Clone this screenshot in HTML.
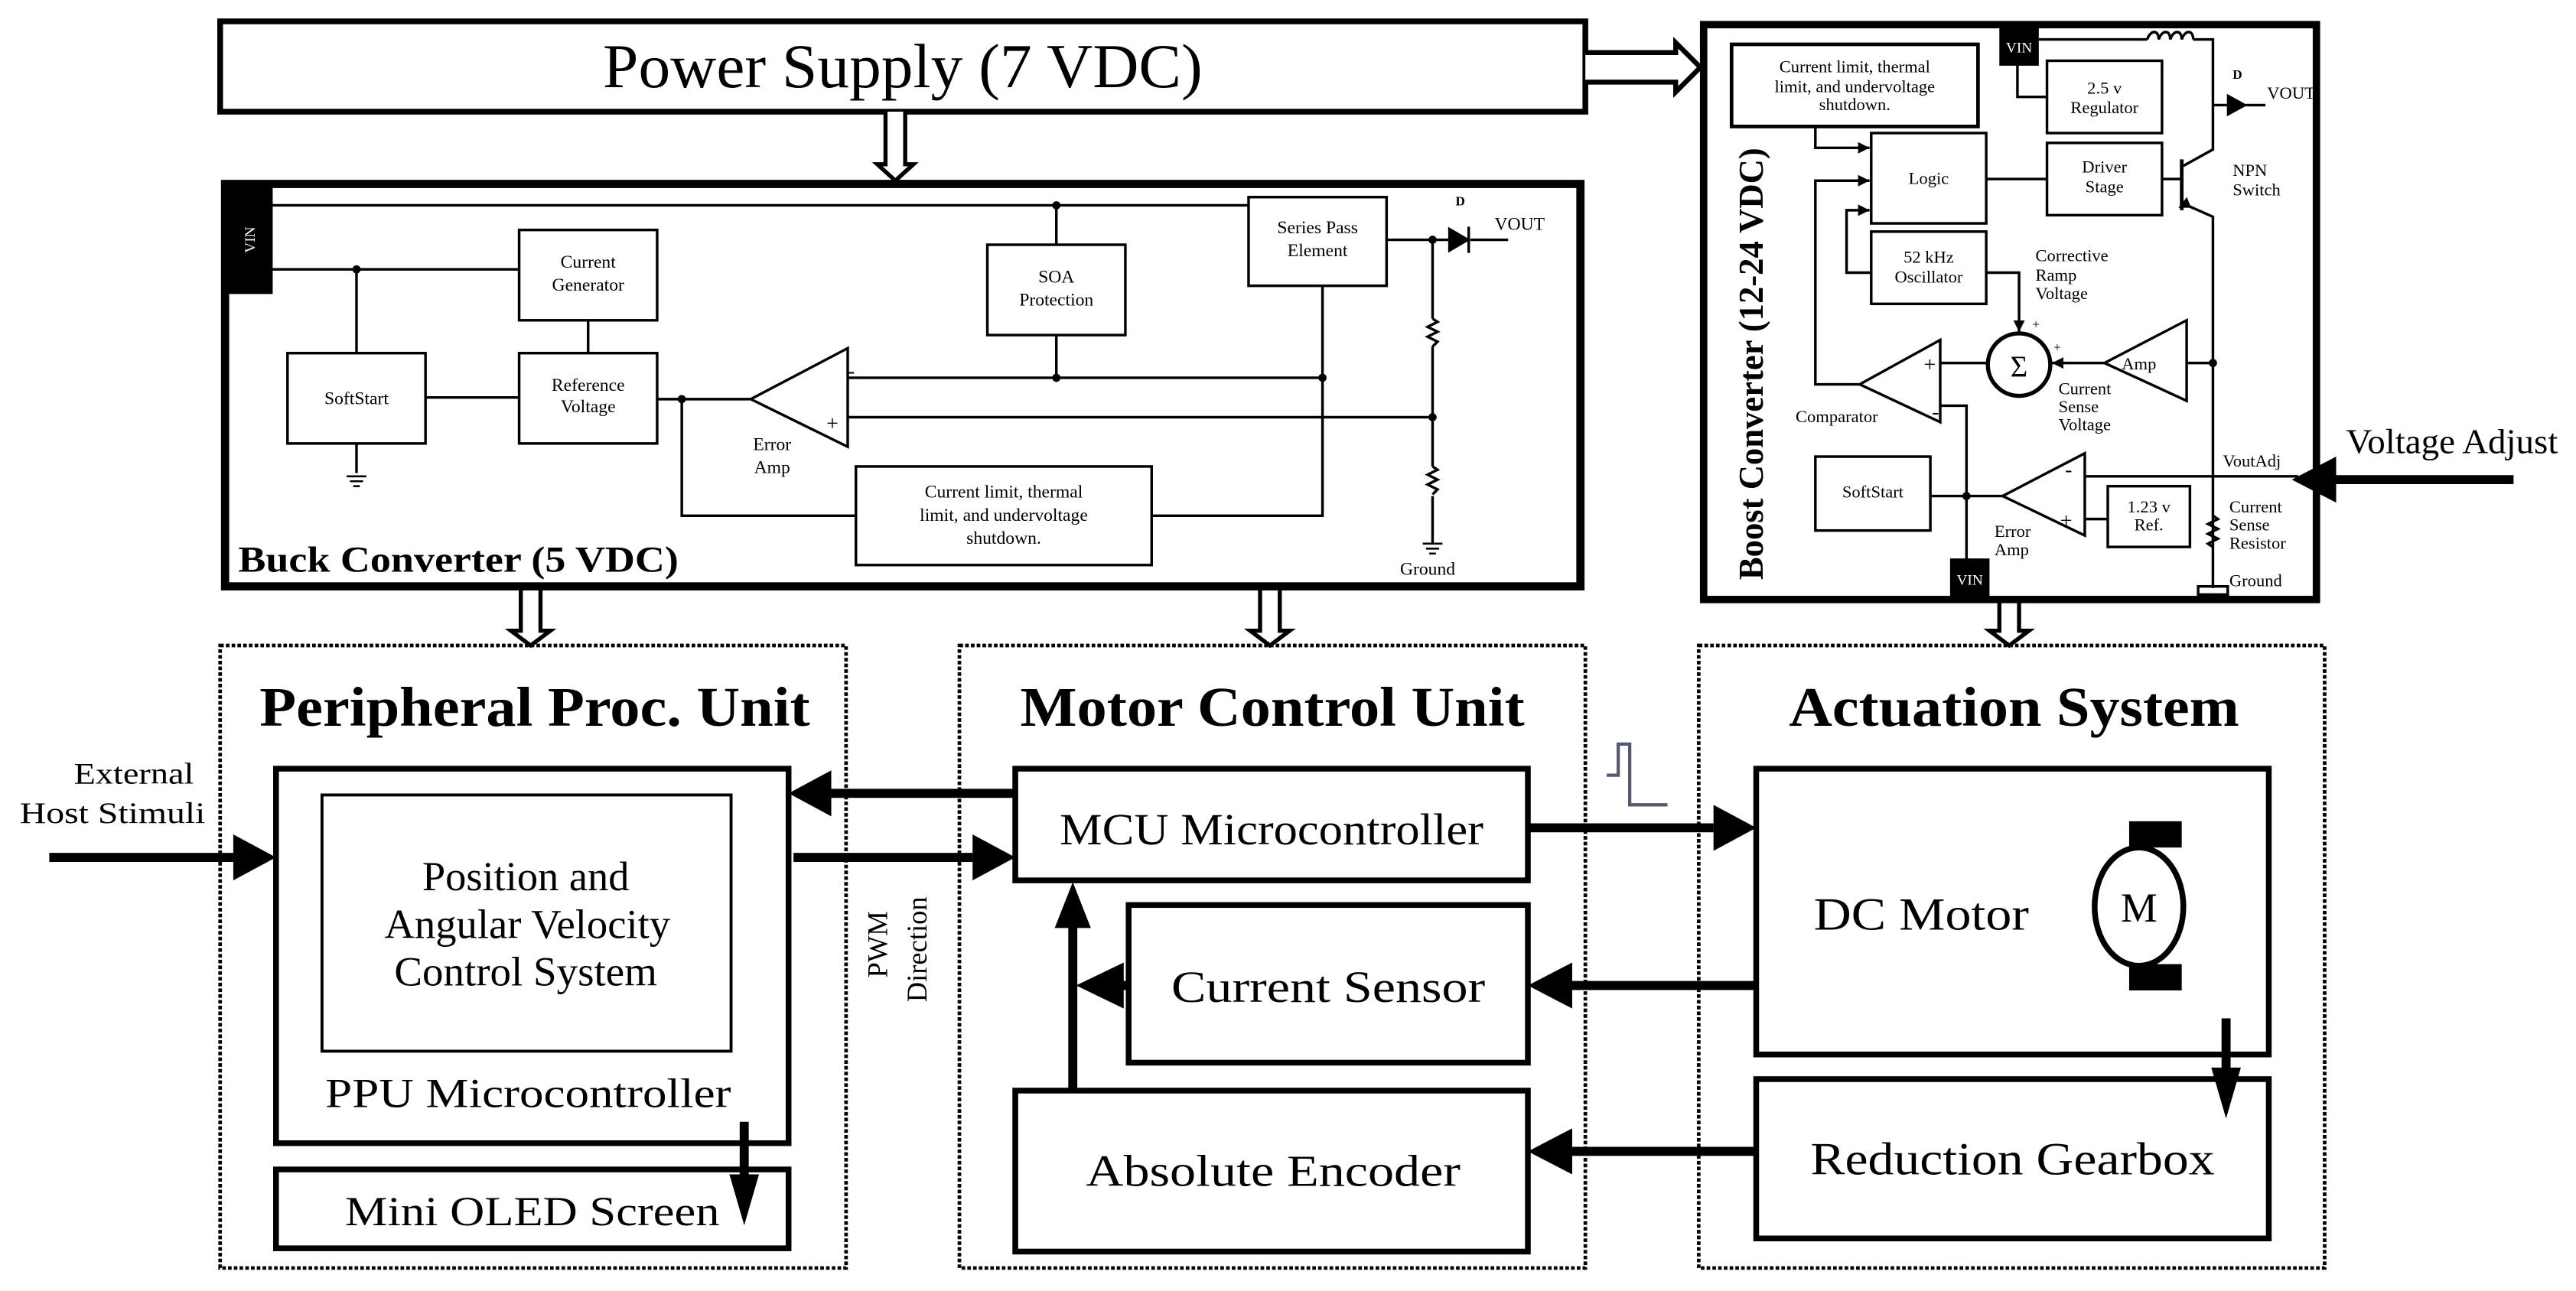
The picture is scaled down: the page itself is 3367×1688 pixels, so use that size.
<!DOCTYPE html>
<html><head><meta charset="utf-8"><style>
html,body{margin:0;padding:0;background:#fff}
svg{display:block}
text{font-family:"Liberation Serif",serif;fill:#000}
</style></head><body>
<svg width="3367" height="1688" viewBox="0 0 1568 786" preserveAspectRatio="none" xmlns="http://www.w3.org/2000/svg">
<defs>
<marker id="sa" viewBox="0 0 10 10" refX="10" refY="5" markerWidth="7" markerHeight="7" markerUnits="userSpaceOnUse" orient="auto"><path d="M0,0L10,5L0,10z"/></marker>
</defs>
<g fill="none" stroke="#000">
<rect x="134" y="13" width="831" height="55" stroke-width="3.5"/>
<path d="M965,32H1020V26L1035,41L1020,56V50H965" stroke-width="3" fill="#fff"/>
<path d="M539,68V100H534L545,110L556,100H551V68" stroke-width="2.5" fill="#fff"/>
<path d="M317,358V384H311L323,393L335,384H329V358" stroke-width="2.5" fill="#fff"/>
<path d="M767,358V384H761L773,393L785,384H779V358" stroke-width="2.5" fill="#fff"/>
<path d="M1217,365V384H1211L1223,393L1235,384H1229V365" stroke-width="2.5" fill="#fff"/>

<rect x="137" y="112" width="825" height="245" stroke-width="5"/>
<g stroke-width="1.6">
<path d="M165,125H760M643,125V149M165,164H316M217,164V215M358,195V215M259,242H316"/>
<path d="M217,270V288"/>
<path d="M400,243H457M415,243V314H521M701,314H805V174"/>
<path d="M643,204V230M516,230H805M516,254H872"/>
<path d="M844,146H882M872,146V194M872,211V284M872,302V331"/>
<path d="M895,146H918"/>
<path d="M872,194l3,2l-6,3l6,3l-6,3l6,3l-3,3M872,284l3,2l-6,3l6,3l-6,3l6,3l-3,3"/>
<rect x="316" y="140" width="84" height="55"/>
<rect x="175" y="215" width="84" height="55"/>
<rect x="316" y="215" width="84" height="55"/>
<rect x="601" y="149" width="84" height="55"/>
<rect x="760" y="120" width="84" height="54"/>
<rect x="521" y="284" width="180" height="60"/>
<path d="M457,243L516,212V272Z"/>
</g>
<path d="M211,290h12M213,293h8M215,296h4M866,331h12M868,334h8M870,337h4" stroke-width="1.2"/>
<path d="M882,139V153L894,146Z" fill="#000" stroke-width="1"/>
<path d="M894,138V154" stroke-width="1.6"/>
</g>
<rect x="137" y="112" width="29" height="67" fill="#000"/>
<g fill="#000"><circle cx="643" cy="125" r="2.5"/><circle cx="217" cy="164" r="2.5"/><circle cx="415" cy="243" r="2.5"/><circle cx="643" cy="230" r="2.5"/><circle cx="805" cy="230" r="2.5"/><circle cx="872" cy="254" r="2.5"/><circle cx="872" cy="146" r="2.5"/></g>

<g fill="none" stroke="#000">
<rect x="1037" y="15" width="373" height="350" stroke-width="4.5"/>
<g stroke-width="1.6">
<rect x="1054" y="27" width="150" height="50" stroke-width="2.2"/>
<rect x="1246" y="37" width="70" height="44"/>
<rect x="1139" y="81" width="70" height="55"/>
<rect x="1246" y="87" width="70" height="44"/>
<rect x="1139" y="141" width="70" height="44"/>
<rect x="1105" y="278" width="70" height="45"/>
<rect x="1283" y="296" width="50" height="37"/>
<path d="M1241,24H1307M1335,24H1347V91L1329,101M1329,124L1347,132V358"/>
<path d="M1307,24c2,-6 7,-6 7,0c2,-6 7,-6 7,0c2,-6 7,-6 7,0c2,-6 7,-6 7,0"/>
<path d="M1328,97V128" stroke-width="2.2"/>
<path d="M1316,109H1328"/>
<path d="M1228,40V59H1246M1209,109H1246"/>
<path d="M1347,64H1356M1367,64H1379"/>
<path d="M1105,77V90H1138" marker-end="url(#sa)"/>
<path d="M1132,234H1105V110H1138" marker-end="url(#sa)"/>
<path d="M1139,166H1124V128H1138" marker-end="url(#sa)"/>
<path d="M1209,166H1229V202" marker-end="url(#sa)"/>
<path d="M1281,221H1249" marker-end="url(#sa)"/>
<path d="M1331,221H1347M1181,221H1210M1181,247H1197V341M1175,302H1219M1269,290H1399M1269,316H1283"/>
<path d="M1347,314l3,2l-6,3l6,3l-6,3l6,3l-6,3l3,2"/>
<path d="M1281,221L1331,195V244Z"/>
<path d="M1132,234L1181,207V257Z"/>
<path d="M1219,302L1269,276V326Z"/>
<circle cx="1229" cy="222" r="19" stroke-width="2.5"/>
<rect x="1338" y="357" width="18" height="5"/>
</g>
<path d="M1356,58V70L1367,64Z" fill="#000" stroke-width="1"/>
<path d="M1333,126l-6,0l4,-5z" fill="#000" stroke-width="1"/>
</g>
<rect x="1217" y="17" width="24" height="23" fill="#000"/>
<rect x="1187" y="340" width="24" height="24" fill="#000"/>
<g fill="#000"><circle cx="1347" cy="221" r="2.5"/><circle cx="1197" cy="302" r="2.5"/></g>

<g fill="none" stroke="#000" stroke-width="2.2" stroke-dasharray="2.2 1.3">
<rect x="134" y="393" width="381" height="379"/>
<rect x="584" y="393" width="381" height="379"/>
<rect x="1034" y="393" width="381" height="379"/>
</g>

<g fill="#fff" stroke="#000" stroke-width="3.5">
<rect x="168" y="468" width="312" height="228"/>
<rect x="168" y="712" width="312" height="48"/>
<rect x="618" y="468" width="312" height="68"/>
<rect x="687" y="551" width="243" height="96"/>
<rect x="618" y="664" width="312" height="98"/>
<rect x="1069" y="468" width="312" height="174"/>
<rect x="1069" y="657" width="312" height="97"/>
</g>
<rect x="196" y="484" width="249" height="156" fill="none" stroke="#000" stroke-width="1.8"/>

<g stroke="#000" stroke-width="5.5" fill="none">
<path d="M618,483H506"/><path d="M483,522H592"/><path d="M30,522H142"/>
<path d="M930,504H1043"/><path d="M1069,600H957"/><path d="M1069,701H957"/>
<path d="M653,664V562"/><path d="M687,600H680"/>
<path d="M1355,620V655"/><path d="M453,683V720"/>
<path d="M1530,292H1420"/>
</g>
<g fill="#000">
<path d="M480,483L506,469V497Z"/><path d="M618,522L592,508V536Z"/><path d="M168,522L142,508V536Z"/>
<path d="M1069,504L1043,490V518Z"/><path d="M930,600L957,586V614Z"/><path d="M930,701L957,687V715Z"/>
<path d="M653,537L642,565H664Z"/><path d="M655,600L684,586V614Z"/>
<path d="M1355,681L1346,650H1364Z"/><path d="M453,746L444,715H462Z"/>
<path d="M1395,292L1422,278V306Z"/>
</g>
<path d="M978,472H985V453H992V490H1015" fill="none" stroke="#555a70" stroke-width="2"/>
<rect x="1296" y="500" width="32" height="16" fill="#000"/>
<rect x="1296" y="587" width="32" height="16" fill="#000"/>
<ellipse cx="1302" cy="552" rx="27" ry="36" fill="#fff" stroke="#000" stroke-width="3.5"/>

<text x="367" y="53" font-size="38" textLength="365" lengthAdjust="spacingAndGlyphs">Power Supply (7 VDC)</text>
<g font-size="11" text-anchor="middle">
<text x="358" y="163">Current</text><text x="358" y="177">Generator</text>
<text x="217" y="246">SoftStart</text>
<text x="358" y="238">Reference</text><text x="358" y="251">Voltage</text>
<text x="643" y="172">SOA</text><text x="643" y="186">Protection</text>
<text x="802" y="142">Series Pass</text><text x="802" y="156">Element</text>
<text x="470" y="274">Error</text><text x="470" y="288">Amp</text>
<text x="611" y="303">Current limit, thermal</text><text x="611" y="317">limit, and undervoltage</text><text x="611" y="331">shutdown.</text>
<text x="869" y="350">Ground</text>
<text x="925" y="140">VOUT</text>
</g>
<text x="886" y="125" font-size="8" font-weight="bold">D</text>
<text x="516" y="230" font-size="13">-</text><text x="503" y="262" font-size="13">+</text>
<text transform="translate(155,146) rotate(-90)" font-size="9" style="fill:#fff" text-anchor="middle">VIN</text>
<text x="145" y="348" font-size="22" font-weight="bold" textLength="268" lengthAdjust="spacingAndGlyphs">Buck Converter (5 VDC)</text>

<g font-size="10.5" text-anchor="middle">
<text x="1129" y="44">Current limit, thermal</text><text x="1129" y="56">limit, and undervoltage</text><text x="1129" y="67">shutdown.</text>
<text x="1281" y="57">2.5 v</text><text x="1281" y="69">Regulator</text>
<text x="1174" y="112">Logic</text>
<text x="1281" y="105">Driver</text><text x="1281" y="117">Stage</text>
<text x="1174" y="160">52 kHz</text><text x="1174" y="172">Oscillator</text>
<text x="1302" y="225">Amp</text>
<text x="1140" y="303">SoftStart</text>
<text x="1308" y="312">1.23 v</text><text x="1308" y="323">Ref.</text>
</g>
<g font-size="10.5">
<text x="1359" y="107">NPN</text><text x="1359" y="119">Switch</text>
<text x="1239" y="159">Corrective</text><text x="1239" y="171">Ramp</text><text x="1239" y="182">Voltage</text>
<text x="1253" y="240">Current</text><text x="1253" y="251">Sense</text><text x="1253" y="262">Voltage</text>
<text x="1093" y="257">Comparator</text>
<text x="1214" y="327">Error</text><text x="1214" y="338">Amp</text>
<text x="1353" y="284">VoutAdj</text>
<text x="1357" y="312">Current</text><text x="1357" y="323">Sense</text><text x="1357" y="334">Resistor</text>
<text x="1357" y="357">Ground</text>
<text x="1380" y="60">VOUT</text>
</g>
<text x="1359" y="48" font-size="8" font-weight="bold">D</text>
<text x="1229" y="229" font-size="18" text-anchor="middle">Σ</text>
<text x="1171" y="226" font-size="13">+</text><text x="1176" y="255" font-size="13">-</text>
<text x="1257" y="290" font-size="13">-</text><text x="1254" y="321" font-size="13">+</text>
<text x="1237" y="200" font-size="8">+</text><text x="1250" y="214" font-size="8">+</text>
<text x="1229" y="32" font-size="9" style="fill:#fff" text-anchor="middle">VIN</text>
<text x="1199" y="356" font-size="9" style="fill:#fff" text-anchor="middle">VIN</text>
<text transform="translate(1073,353) rotate(-90)" font-size="21" font-weight="bold" textLength="263" lengthAdjust="spacingAndGlyphs">Boost Converter (12-24 VDC)</text>
<text x="1428" y="276" font-size="21" textLength="129" lengthAdjust="spacingAndGlyphs">Voltage Adjust</text>

<g font-weight="bold" font-size="34">
<text x="158" y="442" textLength="335" lengthAdjust="spacingAndGlyphs">Peripheral Proc. Unit</text>
<text x="621" y="442" textLength="307" lengthAdjust="spacingAndGlyphs">Motor Control Unit</text>
<text x="1089" y="442" textLength="274" lengthAdjust="spacingAndGlyphs">Actuation System</text>
</g>
<g font-size="25" lengthAdjust="spacingAndGlyphs">
<text x="257" y="542" textLength="126" lengthAdjust="spacingAndGlyphs">Position and</text>
<text x="234" y="571" textLength="174" lengthAdjust="spacingAndGlyphs">Angular Velocity</text>
<text x="240" y="600" textLength="160" lengthAdjust="spacingAndGlyphs">Control System</text>
<text x="198" y="674" textLength="247" lengthAdjust="spacingAndGlyphs">PPU Microcontroller</text>
<text x="210" y="746" textLength="228" lengthAdjust="spacingAndGlyphs">Mini OLED Screen</text>
<text x="645" y="514" font-size="27" textLength="258" lengthAdjust="spacingAndGlyphs">MCU Microcontroller</text>
<text x="713" y="610" font-size="27" textLength="191" lengthAdjust="spacingAndGlyphs">Current Sensor</text>
<text x="661" y="722" font-size="27" textLength="228" lengthAdjust="spacingAndGlyphs">Absolute Encoder</text>
<text x="1104" y="566" font-size="28" textLength="131" lengthAdjust="spacingAndGlyphs">DC Motor</text>
<text x="1102" y="715" font-size="28" textLength="246" lengthAdjust="spacingAndGlyphs">Reduction Gearbox</text>
<text x="1302" y="561" text-anchor="middle">M</text>
</g>
<g font-size="18">
<text x="45" y="477" textLength="73" lengthAdjust="spacingAndGlyphs">External</text>
<text x="12" y="501" textLength="113" lengthAdjust="spacingAndGlyphs">Host Stimuli</text>
</g>
<g font-size="17" text-anchor="middle">
<text transform="translate(540,575) rotate(-90)">PWM</text>
<text transform="translate(564,578) rotate(-90)">Direction</text>
</g>
</svg>
</body></html>
